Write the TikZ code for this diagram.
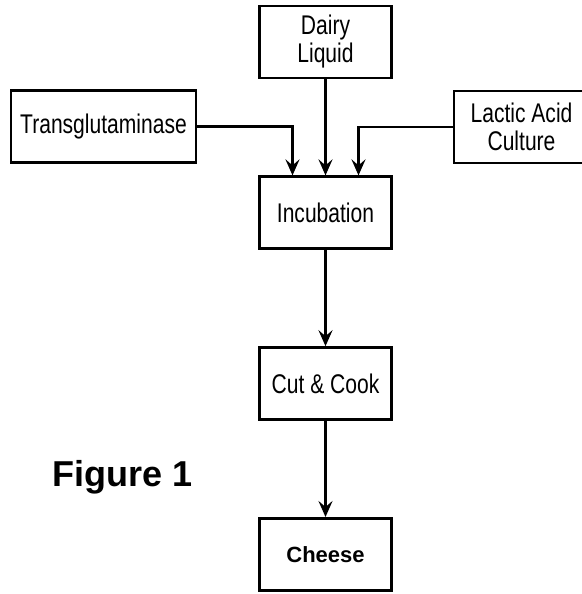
\documentclass[tikz,border=0pt]{standalone}
\usepackage{fontspec}
\setmainfont{Liberation Sans}
\newfontfamily\narrowfont[FakeStretch=0.78]{Liberation Sans}
\usepackage{tikz}
\usetikzlibrary{arrows.meta, positioning}

\begin{document}
\begin{tikzpicture}[
    x=1pt, y=-1pt,
    node distance=96pt,
    box/.style={rectangle, draw, line width=2.8pt, minimum width=132pt, minimum height=72pt, align=center, font=\narrowfont\fontsize{27}{28}\selectfont},
    arrow/.style={-{Stealth[length=16pt, width=14pt, inset=6pt]}, line width=2.8pt},
]
    \useasboundingbox (0,0) rectangle (581,594);

    % Main column
    \node[box] (dairy) at (325.5,42) {Dairy\\Liquid};
    \node[box, below=of dairy] (incub) {Incubation};
    \node[box, below=of incub] (cut) {Cut \& Cook};
    \node[box, below=of cut, font=\bfseries\fontsize{22}{24}\selectfont] (cheese) {Cheese};

    % Side inputs
    \node[box, minimum width=185pt] (trans) at (103.5,126.5) {Transglutaminase};
    \node[box, minimum width=135pt] (lactic) at (521.5,127) {Lactic Acid\\Culture};

    \draw[arrow] (dairy) -- (incub);
    \draw[arrow] (trans.east) -| ([xshift=-33pt]incub.north);
    \draw[arrow] (lactic.west) -| ([xshift=33pt]incub.north);
    \draw[arrow] (incub) -- (cut);
    \draw[arrow] (cut) -- (cheese);

    % Caption
    \node[font=\bfseries\fontsize{36}{40}\selectfont] (fig) at (123,477) {Figure 1};
\end{tikzpicture}
\end{document}
